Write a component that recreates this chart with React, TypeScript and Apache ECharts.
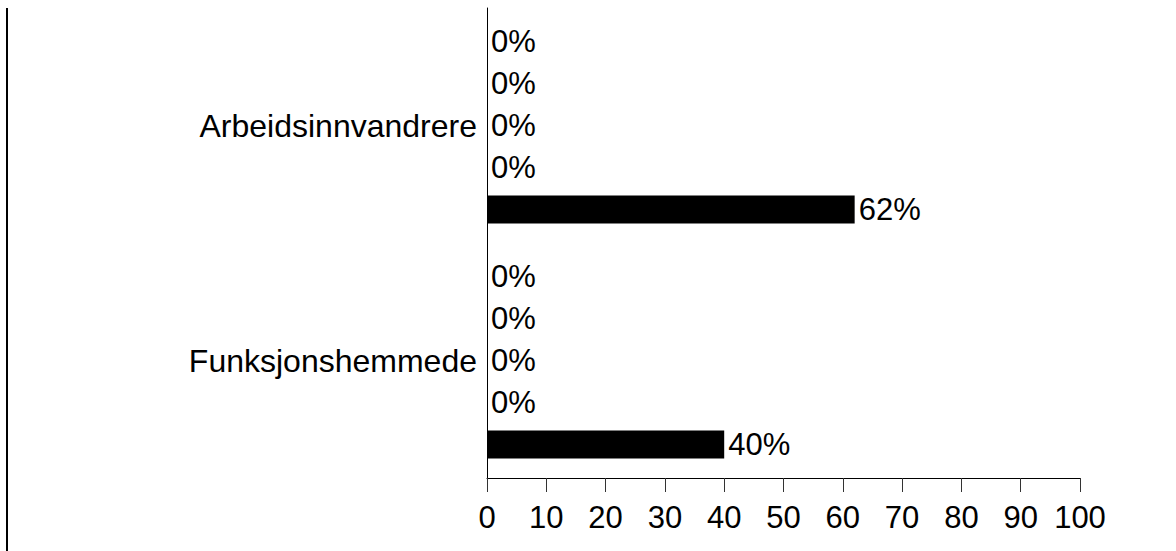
import React, { useEffect, useRef } from "react";
import * as echarts from "echarts";

// Categories listed bottom-to-top (category axis starts at the bottom)
const categories = ["Funksjonshemmede", "Arbeidsinnvandrere"];
// Series drawn from the top bar of each group downward
const seriesA = [0, 0];
const seriesB = [0, 0];
const seriesC = [0, 0];
const seriesD = [0, 0];
const seriesE = [40, 62];
const xTicks = [0, 10, 20, 30, 40, 50, 60, 70, 80, 90, 100];

const FONT = "Liberation Sans, Arial, Helvetica, sans-serif";

export default function App() {
  const ref = useRef<HTMLDivElement>(null);

  useEffect(() => {
    if (!ref.current) return;
    const chart = echarts.init(ref.current, null, { renderer: "svg" });
    const allSeries = [seriesA, seriesB, seriesC, seriesD, seriesE];
    chart.setOption({
      animation: false,
      backgroundColor: "#ffffff",
      textStyle: { fontFamily: FONT },
      grid: { left: 487, right: 96, top: 8, bottom: 73, containLabel: false },
      xAxis: {
        type: "value",
        min: xTicks[0],
        max: xTicks[xTicks.length - 1],
        interval: 10,
        axisLine: { show: true, lineStyle: { color: "#000", width: 1 } },
        axisTick: { show: true, length: 14, lineStyle: { color: "#333", width: 1 } },
        axisLabel: { fontSize: 31, color: "#000", margin: 24, fontFamily: FONT },
        splitLine: { show: false },
      },
      yAxis: {
        type: "category",
        data: categories,
        axisLine: { show: true, lineStyle: { color: "#000", width: 1 } },
        axisTick: { show: false },
        axisLabel: { fontSize: 32, color: "#000", margin: 10, fontFamily: FONT },
        splitLine: { show: false },
      },
      series: allSeries.map((vals, i) => ({
        type: "bar",
        name: "S" + (i + 1),
        data: vals,
        barWidth: 28,
        barGap: "50%",
        itemStyle: { color: "#000" },
        label: {
          show: true,
          position: "right",
          distance: 4,
          formatter: "{c}%",
          fontSize: 31,
          color: "#000",
          fontFamily: FONT,
        },
      })),
      graphic: [
        {
          type: "line",
          shape: { x1: 7, y1: 8, x2: 7, y2: 551 },
          style: { stroke: "#000", lineWidth: 2 },
        },
        {
          type: "rect",
          shape: { x: 484, y: 228, width: 6, height: 12 },
          style: { fill: "#fff" },
        },
      ],
    });
    return () => chart.dispose();
  }, []);

  return (
    <div
      ref={ref}
      style={{ position: "absolute", left: 0, top: 0, width: 1176, height: 551 }}
    />
  );
}
